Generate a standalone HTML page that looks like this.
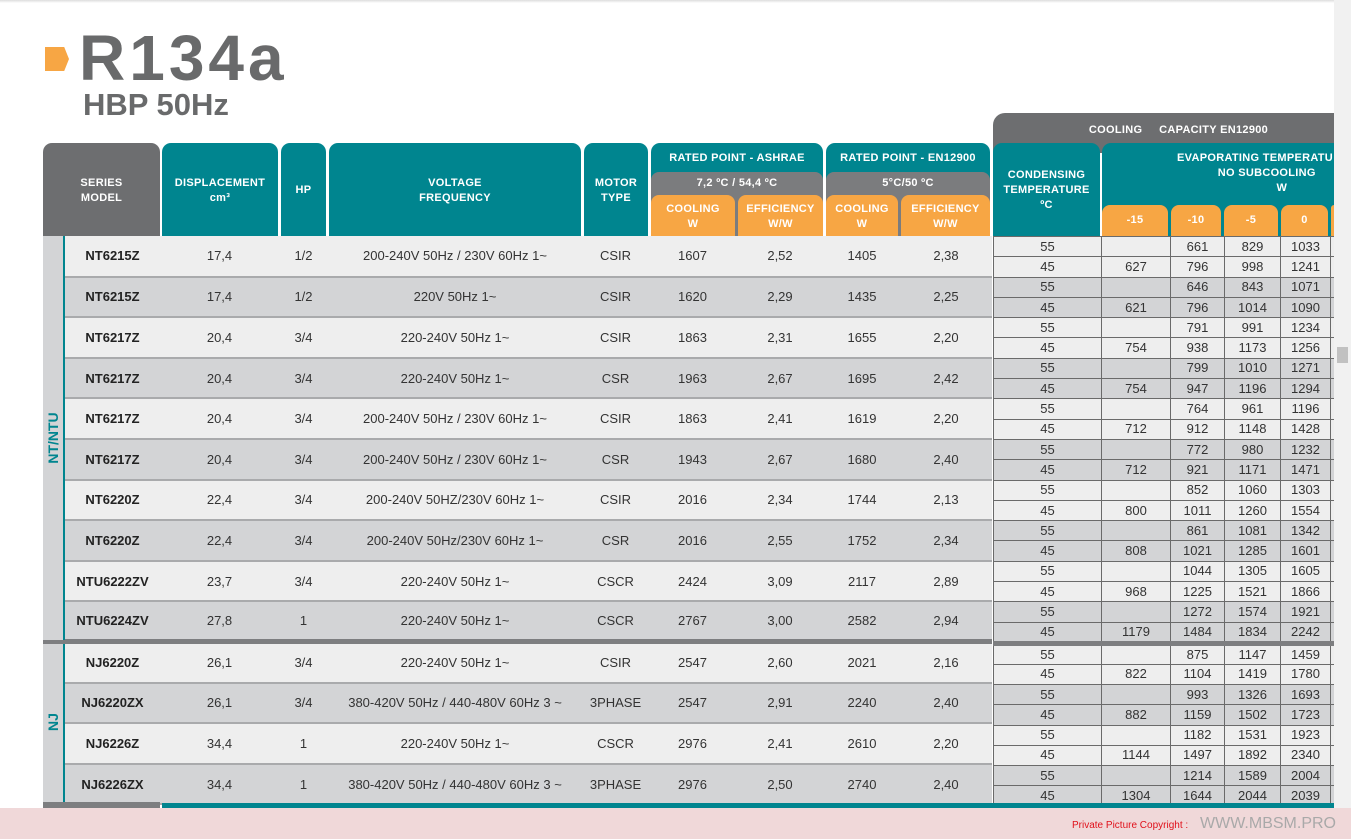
<!DOCTYPE html>
<html><head><meta charset="utf-8"><style>
*{margin:0;padding:0;box-sizing:border-box}
body{width:1351px;height:839px;position:relative;overflow:hidden;background:#fff;font-family:"Liberation Sans","DejaVu Sans",sans-serif;color:#333}
.a{position:absolute}
.h{position:absolute;color:#fff;font-weight:bold;font-size:11px;text-align:center;display:flex;align-items:center;justify-content:center;line-height:15px;letter-spacing:.3px}
.t{background:#00858f;border-radius:9px 9px 0 0}
.g{background:#6d6e70}
.o{background:#f7a644;border-radius:8px 8px 0 0}
.s{background:#7b7c7e;border-radius:8px 8px 0 0}
table{border-collapse:collapse;position:absolute;table-layout:fixed}
#L{left:43px;top:236px;width:949px}
#L td{height:40.6px;text-align:center;font-size:13px;border-bottom:2px solid #a9aaac;padding:0}
#L td.m{font-weight:bold;color:#222}
#R{left:993px;top:236px;width:341px}
#R td{height:20.3px;text-align:center;font-size:13px;border:1px solid #6a6a6a;padding:0;line-height:18px}
.l td{background:#eeeeee}
.d td{background:#d3d4d6}
.sep td{border-bottom:5px solid #7d7e80 !important}
</style></head><body>
<div class="a" style="left:0;top:0;width:1351px;height:3px;background:linear-gradient(#ddd,#fff)"></div>
<div class="a" style="left:45px;top:47px;width:24px;height:24px;background:#f7a644;clip-path:polygon(0 0,80% 0,100% 50%,80% 100%,0 100%)"></div>
<div class="a" style="left:79px;top:18px;font-size:64px;font-weight:bold;color:#696a6b;letter-spacing:4px;line-height:80px">R134a</div>
<div class="a" style="left:83px;top:86px;font-size:31px;font-weight:bold;color:#696a6b;line-height:38px">HBP 50Hz</div>

<div class="h g" style="left:43px;top:143px;width:117px;height:95px;border-radius:9px 9px 0 0">SERIES<br>MODEL</div>
<div class="h t" style="left:162px;top:143px;width:116px;height:95px">DISPLACEMENT<br>cm³</div>
<div class="h t" style="left:281px;top:143px;width:45px;height:95px">HP</div>
<div class="h t" style="left:329px;top:143px;width:252px;height:95px">VOLTAGE<br>FREQUENCY</div>
<div class="h t" style="left:584px;top:143px;width:64px;height:95px">MOTOR<br>TYPE</div>
<div class="h t" style="left:651px;top:143px;width:172px;height:95px;align-items:flex-start;padding-top:8px">RATED POINT - ASHRAE</div>
<div class="h s" style="left:651px;top:172px;width:172px;height:66px;align-items:flex-start;padding-top:4px">7,2 ºC / 54,4 ºC</div>
<div class="h o" style="left:651px;top:195px;width:84px;height:43px">COOLING<br>W</div>
<div class="h o" style="left:738px;top:195px;width:85px;height:43px">EFFICIENCY<br>W/W</div>
<div class="h t" style="left:826px;top:143px;width:164px;height:95px;align-items:flex-start;padding-top:8px">RATED POINT - EN12900</div>
<div class="h s" style="left:826px;top:172px;width:164px;height:66px;align-items:flex-start;padding-top:4px">5°C/50 ºC</div>
<div class="h o" style="left:826px;top:195px;width:72px;height:43px">COOLING<br>W</div>
<div class="h o" style="left:901px;top:195px;width:89px;height:43px">EFFICIENCY<br>W/W</div>
<div class="h g" style="left:993px;top:113px;width:341px;height:40px;border-radius:12px 0 0 0;align-items:flex-start;padding-top:10px;padding-left:30px">COOLING &nbsp;&nbsp;&nbsp; CAPACITY EN12900</div>
<div class="h t" style="left:993px;top:143px;width:107px;height:95px">CONDENSING<br>TEMPERATURE<br>ºC</div>
<div class="h t" style="left:1102px;top:143px;width:232px;height:95px;border-radius:9px 0 0 0;align-items:flex-start;padding-top:8px;justify-content:flex-start;padding-left:75px;white-space:nowrap;text-align:center">EVAPORATING TEMPERATU<br>&nbsp;&nbsp;&nbsp;&nbsp;&nbsp;&nbsp;&nbsp;NO SUBCOOLING<br>&nbsp;&nbsp;&nbsp;&nbsp;&nbsp;&nbsp;&nbsp;&nbsp;&nbsp;&nbsp;&nbsp;&nbsp;&nbsp;&nbsp;&nbsp;&nbsp;W</div>
<div class="h o" style="left:1102px;top:205px;width:66px;height:31px">-15</div>
<div class="h o" style="left:1171px;top:205px;width:50px;height:31px">-10</div>
<div class="h o" style="left:1224px;top:205px;width:54px;height:31px">-5</div>
<div class="h o" style="left:1281px;top:205px;width:47px;height:31px">0</div>
<div class="h o" style="left:1331px;top:205px;width:3px;height:31px;border-radius:4px 0 0 0"></div>

<table id="L"><colgroup><col style="width:22px"><col style="width:95px"><col style="width:119px"><col style="width:49px"><col style="width:254px"><col style="width:67px"><col style="width:87px"><col style="width:88px"><col style="width:76px"><col style="width:92px"></colgroup>
<tr class="l"><td style="background:#d3d4d6;border-bottom:none"></td><td class="m">NT6215Z</td><td>17,4</td><td>1/2</td><td>200-240V 50Hz / 230V 60Hz 1~</td><td>CSIR</td><td>1607</td><td>2,52</td><td>1405</td><td>2,38</td></tr>
<tr class="d"><td style="border-bottom:none"></td><td class="m">NT6215Z</td><td>17,4</td><td>1/2</td><td>220V 50Hz 1~</td><td>CSIR</td><td>1620</td><td>2,29</td><td>1435</td><td>2,25</td></tr>
<tr class="l"><td style="background:#d3d4d6;border-bottom:none"></td><td class="m">NT6217Z</td><td>20,4</td><td>3/4</td><td>220-240V 50Hz 1~</td><td>CSIR</td><td>1863</td><td>2,31</td><td>1655</td><td>2,20</td></tr>
<tr class="d"><td style="border-bottom:none"></td><td class="m">NT6217Z</td><td>20,4</td><td>3/4</td><td>220-240V 50Hz 1~</td><td>CSR</td><td>1963</td><td>2,67</td><td>1695</td><td>2,42</td></tr>
<tr class="l"><td style="background:#d3d4d6;border-bottom:none"></td><td class="m">NT6217Z</td><td>20,4</td><td>3/4</td><td>200-240V 50Hz / 230V 60Hz 1~</td><td>CSIR</td><td>1863</td><td>2,41</td><td>1619</td><td>2,20</td></tr>
<tr class="d"><td style="border-bottom:none"></td><td class="m">NT6217Z</td><td>20,4</td><td>3/4</td><td>200-240V 50Hz / 230V 60Hz 1~</td><td>CSR</td><td>1943</td><td>2,67</td><td>1680</td><td>2,40</td></tr>
<tr class="l"><td style="background:#d3d4d6;border-bottom:none"></td><td class="m">NT6220Z</td><td>22,4</td><td>3/4</td><td>200-240V 50HZ/230V 60Hz 1~</td><td>CSIR</td><td>2016</td><td>2,34</td><td>1744</td><td>2,13</td></tr>
<tr class="d"><td style="border-bottom:none"></td><td class="m">NT6220Z</td><td>22,4</td><td>3/4</td><td>200-240V 50Hz/230V 60Hz 1~</td><td>CSR</td><td>2016</td><td>2,55</td><td>1752</td><td>2,34</td></tr>
<tr class="l"><td style="background:#d3d4d6;border-bottom:none"></td><td class="m">NTU6222ZV</td><td>23,7</td><td>3/4</td><td>220-240V 50Hz 1~</td><td>CSCR</td><td>2424</td><td>3,09</td><td>2117</td><td>2,89</td></tr>
<tr class="d sep"><td></td><td class="m">NTU6224ZV</td><td>27,8</td><td>1</td><td>220-240V 50Hz 1~</td><td>CSCR</td><td>2767</td><td>3,00</td><td>2582</td><td>2,94</td></tr>
<tr class="l"><td style="background:#d3d4d6;border-bottom:none"></td><td class="m">NJ6220Z</td><td>26,1</td><td>3/4</td><td>220-240V 50Hz 1~</td><td>CSIR</td><td>2547</td><td>2,60</td><td>2021</td><td>2,16</td></tr>
<tr class="d"><td style="border-bottom:none"></td><td class="m">NJ6220ZX</td><td>26,1</td><td>3/4</td><td>380-420V 50Hz / 440-480V 60Hz 3 ~</td><td>3PHASE</td><td>2547</td><td>2,91</td><td>2240</td><td>2,40</td></tr>
<tr class="l"><td style="background:#d3d4d6;border-bottom:none"></td><td class="m">NJ6226Z</td><td>34,4</td><td>1</td><td>220-240V 50Hz 1~</td><td>CSCR</td><td>2976</td><td>2,41</td><td>2610</td><td>2,20</td></tr>
<tr class="d"><td style="border-bottom:none"></td><td class="m">NJ6226ZX</td><td>34,4</td><td>1</td><td>380-420V 50Hz / 440-480V 60Hz 3 ~</td><td>3PHASE</td><td>2976</td><td>2,50</td><td>2740</td><td>2,40</td></tr>
</table>

<table id="R"><colgroup><col style="width:108px"><col style="width:69px"><col style="width:54px"><col style="width:56px"><col style="width:50px"><col style="width:4px"></colgroup>
<tr class="l"><td>55</td><td></td><td>661</td><td>829</td><td>1033</td><td></td></tr><tr class="l"><td>45</td><td>627</td><td>796</td><td>998</td><td>1241</td><td></td></tr>
<tr class="d"><td>55</td><td></td><td>646</td><td>843</td><td>1071</td><td></td></tr><tr class="d"><td>45</td><td>621</td><td>796</td><td>1014</td><td>1090</td><td></td></tr>
<tr class="l"><td>55</td><td></td><td>791</td><td>991</td><td>1234</td><td></td></tr><tr class="l"><td>45</td><td>754</td><td>938</td><td>1173</td><td>1256</td><td></td></tr>
<tr class="d"><td>55</td><td></td><td>799</td><td>1010</td><td>1271</td><td></td></tr><tr class="d"><td>45</td><td>754</td><td>947</td><td>1196</td><td>1294</td><td></td></tr>
<tr class="l"><td>55</td><td></td><td>764</td><td>961</td><td>1196</td><td></td></tr><tr class="l"><td>45</td><td>712</td><td>912</td><td>1148</td><td>1428</td><td></td></tr>
<tr class="d"><td>55</td><td></td><td>772</td><td>980</td><td>1232</td><td></td></tr><tr class="d"><td>45</td><td>712</td><td>921</td><td>1171</td><td>1471</td><td></td></tr>
<tr class="l"><td>55</td><td></td><td>852</td><td>1060</td><td>1303</td><td></td></tr><tr class="l"><td>45</td><td>800</td><td>1011</td><td>1260</td><td>1554</td><td></td></tr>
<tr class="d"><td>55</td><td></td><td>861</td><td>1081</td><td>1342</td><td></td></tr><tr class="d"><td>45</td><td>808</td><td>1021</td><td>1285</td><td>1601</td><td></td></tr>
<tr class="l"><td>55</td><td></td><td>1044</td><td>1305</td><td>1605</td><td></td></tr><tr class="l"><td>45</td><td>968</td><td>1225</td><td>1521</td><td>1866</td><td></td></tr>
<tr class="d"><td>55</td><td></td><td>1272</td><td>1574</td><td>1921</td><td></td></tr><tr class="d sep"><td>45</td><td>1179</td><td>1484</td><td>1834</td><td>2242</td><td></td></tr>
<tr class="l"><td>55</td><td></td><td>875</td><td>1147</td><td>1459</td><td></td></tr><tr class="l"><td>45</td><td>822</td><td>1104</td><td>1419</td><td>1780</td><td></td></tr>
<tr class="d"><td>55</td><td></td><td>993</td><td>1326</td><td>1693</td><td></td></tr><tr class="d"><td>45</td><td>882</td><td>1159</td><td>1502</td><td>1723</td><td></td></tr>
<tr class="l"><td>55</td><td></td><td>1182</td><td>1531</td><td>1923</td><td></td></tr><tr class="l"><td>45</td><td>1144</td><td>1497</td><td>1892</td><td>2340</td><td></td></tr>
<tr class="d"><td>55</td><td></td><td>1214</td><td>1589</td><td>2004</td><td></td></tr><tr class="d"><td>45</td><td>1304</td><td>1644</td><td>2044</td><td>2039</td><td></td></tr>
</table>

<div class="a" style="left:43px;top:236px;width:20px;height:570px;background:#d3d4d6"></div>
<div class="a" style="left:63px;top:236px;width:2px;height:570px;background:#00858f"></div>
<div class="a" style="left:43px;top:640px;width:22px;height:4px;background:#7d7e80"></div>
<div class="a" style="left:53px;top:438px;transform:translate(-50%,-50%) rotate(-90deg);color:#00858f;font-weight:bold;font-size:14px;white-space:nowrap">NT/NTU</div>
<div class="a" style="left:53px;top:722px;transform:translate(-50%,-50%) rotate(-90deg);color:#00858f;font-weight:bold;font-size:14px;white-space:nowrap">NJ</div>
<div class="a" style="left:43px;top:802px;width:117px;height:6px;background:#7d7e80"></div>
<div class="a" style="left:162px;top:803px;width:1172px;height:5px;background:#00858f"></div>

<div class="a" style="left:0;top:808px;width:1351px;height:31px;background:#f0d8d9"></div>
<div class="a" style="left:1072px;top:820px;font-size:10px;color:#e0101a">Private Picture Copyright :</div>
<div class="a" style="left:1200px;top:815px;font-size:16px;color:#a9a9a9;letter-spacing:0">WWW.MBSM.PRO</div>

<div class="a" style="left:1334px;top:0;width:17px;height:808px;background:#f1f1f1"></div>
<div class="a" style="left:1337px;top:347px;width:11px;height:16px;background:#c1c1c1"></div>
</body></html>
